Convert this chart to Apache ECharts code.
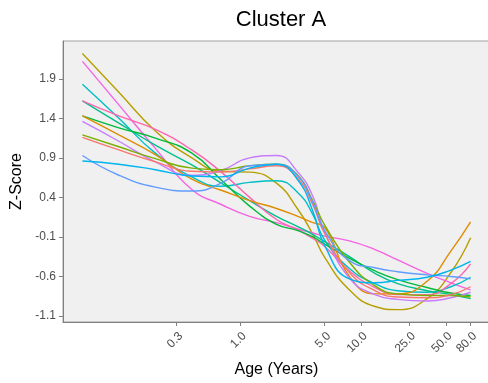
<!DOCTYPE html>
<html><head><meta charset="utf-8">
<script src="https://cdn.jsdelivr.net/npm/echarts@6/dist/echarts.min.js"></script>
<style>html,body{margin:0;padding:0;background:#fff}#c{width:488px;height:383px}</style>
</head><body><div id="c"></div>
<script>
const ages = [0.05, 0.1, 0.2, 0.4, 0.7, 1.2, 2, 3, 4, 5, 8, 13, 20, 35, 55, 80];
const xTickLabels = [0.3, 1.0, 5.0, 10.0, 25.0, 50.0, 80.0];
const yTickLabels = [-1.1, -0.6, -0.1, 0.4, 0.9, 1.4, 1.9];

const olive   = [2.22, 1.73, 1.24, 0.90, 0.73, 0.72, 0.58, 0.25, -0.07, -0.36, -0.77, -0.98, -1.02, -0.88, -0.55, -0.11];
const magenta = [2.12, 1.57, 1.02, 0.50, 0.31, 0.16, 0.08, 0.00, -0.05, -0.09, -0.15, -0.26, -0.39, -0.56, -0.68, -0.77];
const cyan    = [1.83, 1.40, 0.96, 0.66, 0.54, 0.59, 0.61, 0.46, 0.18, -0.14, -0.50, -0.69, -0.78, -0.80, -0.73, -0.61];
const teal    = [1.62, 1.34, 1.06, 0.81, 0.58, 0.36, 0.16, 0.03, -0.07, -0.16, -0.35, -0.56, -0.69, -0.78, -0.83, -0.88];
const hotpink = [1.62, 1.43, 1.26, 1.00, 0.72, 0.40, 0.12, -0.01, -0.12, -0.22, -0.53, -0.74, -0.83, -0.83, -0.69, -0.44];
const green   = [1.43, 1.28, 1.15, 0.96, 0.62, 0.29, 0.06, -0.02, -0.10, -0.19, -0.37, -0.53, -0.64, -0.74, -0.81, -0.84];
const orange  = [1.43, 1.19, 0.94, 0.63, 0.49, 0.36, 0.26, 0.16, 0.08, 0.02, -0.60, -0.82, -0.82, -0.66, -0.28, 0.09];
const violet  = [1.36, 1.11, 0.85, 0.68, 0.74, 0.90, 0.93, 0.72, 0.41, -0.04, -0.62, -0.83, -0.89, -0.91, -0.87, -0.80];
const ygreen  = [1.19, 1.04, 0.89, 0.77, 0.75, 0.80, 0.82, 0.68, 0.35, 0.05, -0.42, -0.72, -0.82, -0.84, -0.84, -0.86];
const salmon  = [1.16, 1.00, 0.85, 0.73, 0.72, 0.76, 0.80, 0.64, 0.30, -0.06, -0.55, -0.78, -0.86, -0.87, -0.83, -0.73];
const blue    = [0.93, 0.68, 0.53, 0.48, 0.58, 0.80, 0.82, 0.67, 0.33, -0.02, -0.40, -0.49, -0.54, -0.58, -0.60, -0.63];
const sky     = [0.86, 0.82, 0.75, 0.67, 0.66, 0.77, 0.82, 0.62, 0.22, -0.21, -0.63, -0.68, -0.65, -0.61, -0.52, -0.41];

const seriesDefs = [
  ['olive', olive, '#B79F00'], ['magenta', magenta, '#F564E3'], ['cyan', cyan, '#00BFC4'],
  ['teal', teal, '#00C08B'], ['hotpink', hotpink, '#FF64B0'], ['green', green, '#00BA38'],
  ['orange', orange, '#DE8C00'], ['violet', violet, '#C77CFF'], ['ygreen', ygreen, '#7CAE00'],
  ['salmon', salmon, '#F8766D'], ['blue', blue, '#619CFF'], ['sky', sky, '#00B4F0']
];

const lg = v => Math.log10(v);
const logMin = lg(ages[0]), logMax = lg(ages[ages.length - 1]);
const pad = (logMax - logMin) * 0.05;
const xTickLogs = xTickLabels.map(lg);

const chart = echarts.init(document.getElementById('c'), null, {renderer: 'canvas'});
chart.setOption({
  animation: false,
  title: {text: 'Cluster A', left: 276, top: 4, textAlign: 'center',
    textStyle: {fontFamily: 'Liberation Sans', fontSize: 22, fontWeight: 'normal', color: '#000'}},
  grid: {left: 63, top: 41, width: 427, height: 281, show: true, containLabel: false, outerBoundsMode: 'none',
    backgroundColor: '#F0F0F0', borderColor: '#A0A0A0', borderWidth: 1},
  xAxis: {
    type: 'value', min: logMin - pad, max: logMax + pad,
    name: 'Age (Years)', nameLocation: 'middle', nameGap: 40,
    nameTextStyle: {fontFamily: 'Liberation Sans', fontSize: 16, color: '#000'},
    axisLine: {show: true, onZero: false, lineStyle: {color: '#808080', width: 1}},
    axisTick: {show: true, customValues: xTickLogs, length: 4, lineStyle: {color: '#808080'}},
    axisLabel: {customValues: xTickLogs, rotate: 45, verticalAlign: 'top', fontFamily: 'Liberation Sans', fontSize: 12, color: '#4D4D4D', margin: 8,
      formatter: v => { let best = 0; xTickLogs.forEach((t, i) => { if (Math.abs(t - v) < Math.abs(xTickLogs[best] - v)) best = i; }); return xTickLabels[best].toFixed(1); }},
    splitLine: {show: false}
  },
  yAxis: {
    type: 'value', min: -1.176, max: 2.378,
    name: 'Z-Score', nameLocation: 'middle', nameGap: 37, nameRotate: 90,
    nameTextStyle: {fontFamily: 'Liberation Sans', fontSize: 16, color: '#000'},
    axisLine: {show: true, onZero: false, lineStyle: {color: '#808080', width: 1}},
    axisTick: {show: true, customValues: yTickLabels, length: 4, lineStyle: {color: '#808080'}},
    axisLabel: {customValues: yTickLabels, fontFamily: 'Liberation Sans', fontSize: 12, color: '#4D4D4D', margin: 7,
      formatter: v => v.toFixed(1)},
    splitLine: {show: false}
  },
  series: seriesDefs.map(([name, vals, color]) => ({
    name, type: 'line', smooth: 0.5, showSymbol: false, symbol: 'none',
    data: ages.map((a, i) => [lg(a), vals[i]]),
    lineStyle: {color, width: 1.4}, itemStyle: {color}
  }))
});
</script></body></html>
